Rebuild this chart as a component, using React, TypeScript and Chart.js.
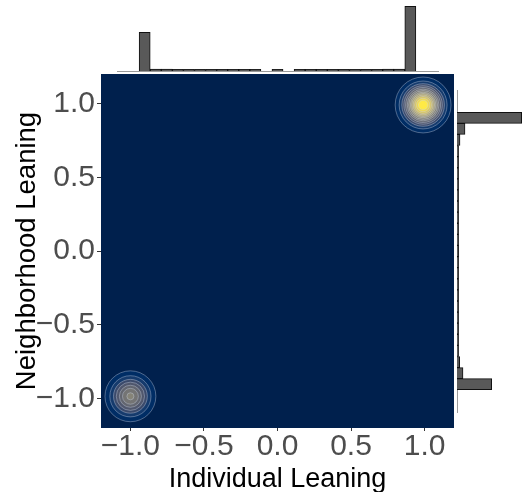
import React, { useEffect, useRef } from 'react';
import { Chart, registerables } from 'chart.js';

Chart.register(...registerables);
Chart.defaults.font.family = "'Liberation Sans', Arial, Helvetica, sans-serif";

// ---- data ----
const xTicks = [-1, -0.5, 0, 0.5, 1];
const yTicks = [-1, -0.5, 0, 0.5, 1];
const axisMin = -1.2;
const axisMax = 1.2;

// density blobs: centre and contour radii (data units), outermost first
const topRightCenter = { x: 0.99, y: 0.99 };
const topRightRingRadii = [0.19, 0.163, 0.145, 0.131, 0.119, 0.108, 0.098, 0.087, 0.078, 0.068, 0.058, 0.046, 0.032];
const bottomLeftCenter = { x: -1.0, y: -0.985 };
const bottomLeftRingRadii = [0.173, 0.14, 0.115, 0.096, 0.075, 0.054, 0.024];
const densityLevelCount = 13;

// marginal histograms (29 bins)
const topHistCounts = [0, 0, 387, 20, 18, 16, 16, 16, 16, 16, 16, 16, 16, 0, 16, 0, 16, 16, 16, 16, 16, 16, 16, 16, 18, 20, 647, 0, 0];
const rightHistCounts = [0, 0, 647, 80, 30, 16, 16, 16, 16, 16, 16, 16, 16, 16, 16, 16, 16, 16, 16, 16, 16, 16, 16, 16, 27, 60, 347, 0, 0];
const histMax = 710;

// ---- styles ----
const cividisStops = ['#00204D', '#00336F', '#39486B', '#575C6D', '#707173', '#8A8779', '#A69D75', '#C4B56C', '#E4CF5B', '#FFEA46'];

function hexToRgb(h: string) {
  const n = parseInt(h.slice(1), 16);
  return [(n >> 16) & 255, (n >> 8) & 255, n & 255];
}
function cividis(t: number) {
  const tt = Math.min(1, Math.max(0, t)) * (cividisStops.length - 1);
  const i = Math.min(cividisStops.length - 2, Math.floor(tt));
  const f = tt - i;
  const a = hexToRgb(cividisStops[i]);
  const b = hexToRgb(cividisStops[i + 1]);
  const c = a.map((v, k) => Math.round(v + (b[k] - v) * f));
  return `rgb(${c[0]},${c[1]},${c[2]})`;
}

function fmtTick(value: any) {
  const v = Number(value);
  const s = Math.abs(v).toFixed(1);
  return v < -1e-9 ? '\u2212' + s : s;
}

const panelBg = {
  id: 'panelBg',
  beforeDraw(chart: any) {
    const { ctx, chartArea } = chart;
    ctx.save();
    ctx.fillStyle = cividisStops[0];
    ctx.fillRect(chartArea.left, chartArea.top, chartArea.right - chartArea.left, chartArea.bottom - chartArea.top);
    ctx.restore();
  },
};

function blobDataset(center: { x: number; y: number }, radii: number[]) {
  return {
    data: radii.map((rr) => ({ x: center.x, y: center.y, rr, r: 1 })),
    backgroundColor: radii.map((_, k) => cividis((k + 1) / densityLevelCount)),
    borderColor: 'rgba(205,215,235,0.55)',
    borderWidth: 0.7,
    clip: false,
  };
}

export default function App() {
  const mainRef = useRef<HTMLCanvasElement>(null);
  const topRef = useRef<HTMLCanvasElement>(null);
  const rightRef = useRef<HTMLCanvasElement>(null);

  useEffect(() => {
    const tickGrid = { display: true, drawOnChartArea: false, drawTicks: true, tickLength: 4, color: '#333333', lineWidth: 1 };
    const main = new Chart(mainRef.current!, {
      type: 'bubble',
      data: {
        datasets: [blobDataset(topRightCenter, topRightRingRadii), blobDataset(bottomLeftCenter, bottomLeftRingRadii)] as any,
      },
      options: {
        responsive: false,
        animation: false,
        events: [],
        layout: { padding: { top: 74, right: 74, left: 0, bottom: 0 } },
        plugins: { legend: { display: false }, tooltip: { enabled: false } },
        scales: {
          x: {
            type: 'linear',
            min: axisMin,
            max: axisMax,
            afterBuildTicks: (s: any) => { s.ticks = xTicks.map((v) => ({ value: v })); },
            afterFit: (s: any) => { s.height = 64; },
            grid: { ...tickGrid, tickLength: 3 },
            border: { display: false },
            ticks: { color: '#4D4D4D', font: { size: 30, lineHeight: 1 }, padding: 1, maxRotation: 0, autoSkip: false, callback: fmtTick },
            title: { display: true, text: 'Individual Leaning', color: '#000000', font: { size: 27, lineHeight: 1 }, padding: { top: 0, bottom: -1 } },
          },
          y: {
            type: 'linear',
            min: axisMin,
            max: axisMax,
            afterBuildTicks: (s: any) => { s.ticks = yTicks.map((v) => ({ value: v })); },
            afterFit: (s: any) => { s.width = 101; },
            grid: tickGrid,
            border: { display: false },
            ticks: { color: '#4D4D4D', font: { size: 30, lineHeight: 1 }, padding: 2, autoSkip: false, callback: fmtTick },
            title: { display: true, text: 'Neighborhood Leaning', color: '#000000', font: { size: 27.5 }, padding: { top: 11, bottom: 0 } },
          },
        },
      } as any,
      plugins: [panelBg],
    });
    // convert contour radii (data units) into pixel radii through the x scale
    const xs: any = main.scales.x;
    main.data.datasets.forEach((ds: any) => {
      ds.data.forEach((p: any) => {
        p.r = Math.abs(xs.getPixelForValue(p.x + p.rr) - xs.getPixelForValue(p.x));
      });
    });
    main.update('none');

    const barStyle = {
      backgroundColor: '#595959',
      borderColor: '#111111',
      borderWidth: 1,
      barPercentage: 1,
      categoryPercentage: 1,
      borderSkipped: 'start',
    };

    const top = new Chart(topRef.current!, {
      type: 'bar',
      data: {
        labels: topHistCounts.map((_, i) => String(i)),
        datasets: [{ data: topHistCounts, ...barStyle } as any],
      },
      options: {
        responsive: false,
        animation: false,
        events: [],
        layout: { padding: { left: 117, right: 90, top: 0, bottom: 9 } },
        plugins: { legend: { display: false }, tooltip: { enabled: false } },
        scales: {
          x: {
            display: true,
            grid: { display: false },
            ticks: { display: false },
            border: { display: true, color: '#9a9a9a', width: 1 },
            afterFit: (s: any) => { s.height = 0; },
          },
          y: { display: false, min: 0, max: histMax },
        },
      } as any,
    });

    const right = new Chart(rightRef.current!, {
      type: 'bar',
      data: {
        labels: rightHistCounts.map((_, i) => String(i)),
        datasets: [{ data: rightHistCounts, ...barStyle } as any],
      },
      options: {
        indexAxis: 'y',
        responsive: false,
        animation: false,
        events: [],
        layout: { padding: { left: 457, right: 0, top: 90, bottom: 80 } },
        plugins: { legend: { display: false }, tooltip: { enabled: false } },
        scales: {
          y: {
            display: true,
            grid: { display: false },
            ticks: { display: false },
            border: { display: true, color: '#9a9a9a', width: 1 },
            afterFit: (s: any) => { s.width = 0; },
          },
          x: { display: false, min: 0, max: histMax },
        },
      } as any,
    });

    return () => {
      main.destroy();
      top.destroy();
      right.destroy();
    };
  }, []);

  const cs: React.CSSProperties = { position: 'absolute', left: 0, top: 0, display: 'block' };
  return (
    <div style={{ position: 'absolute', left: 0, top: 0, width: 528, height: 492, background: '#ffffff' }}>
      <canvas ref={mainRef} width={528} height={492} style={cs} />
      <canvas ref={topRef} width={528} height={80} style={cs} />
      <canvas ref={rightRef} width={528} height={492} style={cs} />
    </div>
  );
}
